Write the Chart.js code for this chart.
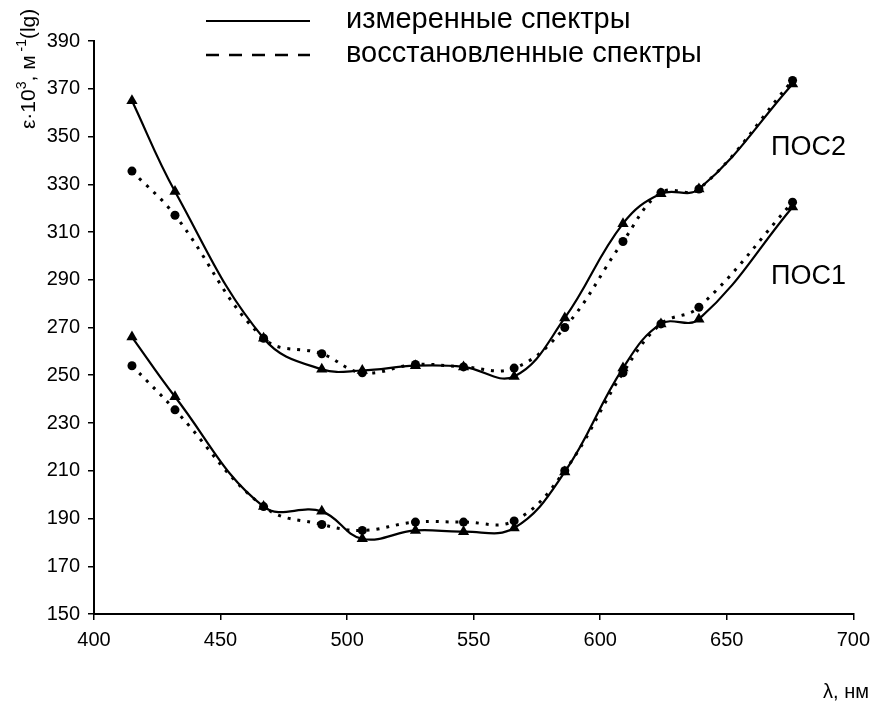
<!DOCTYPE html>
<html><head><meta charset="utf-8">
<script src="https://cdn.jsdelivr.net/npm/chart.js@4"></script>
<style>html,body{margin:0;padding:0;background:#fff}canvas{display:block}</style>
</head><body>
<canvas id="c" width="878" height="705"></canvas>
<script>
const FONT = "'Liberation Sans', Arial, sans-serif";
const wavelengths = [415, 432, 467, 490, 506, 527, 546, 566, 586, 609, 624, 639, 676];
const pos2Measured = [365, 327, 265.5, 252.5, 252, 254, 253.5, 249.5, 274, 313.5, 326, 328, 372];
const pos2Restored = [335.5, 317, 265.5, 259, 251, 254.5, 253.5, 253, 270, 306, 326.5, 328, 373.5];
const pos1Measured = [266, 241, 195, 193, 181.5, 185, 184.5, 186, 209.5, 253, 271.5, 273.5, 320.5];
const pos1Restored = [254, 235.5, 195, 187.5, 185, 188.5, 188.5, 189, 210, 251, 271.5, 278.5, 322.5];
const legendLabels = ['измеренные спектры', 'восстановленные спектры'];
const seriesLabels = ['ПОС2', 'ПОС1'];
const xAxisTitle = 'λ, нм';

const pts = arr => wavelengths.map((x, i) => ({x: x, y: arr[i]}));
const measuredStyle = {borderColor:'#000', backgroundColor:'#000', borderWidth:2.2, pointStyle:'triangle', pointRadius:6.5, pointBorderWidth:0, tension:0.4, fill:false};
const restoredStyle = {borderColor:'#000', backgroundColor:'#000', borderWidth:3, borderDash:[3,7], pointStyle:'circle', pointRadius:4.5, pointBorderWidth:0, tension:0.4, fill:false};

const annot = {
  id:'annot',
  afterDraw(chart){
    const ctx = chart.ctx;
    const xs = chart.scales.x, ys = chart.scales.y;
    ctx.save();
    ctx.fillStyle = '#000'; ctx.strokeStyle = '#000';
    // y axis title with superscripts
    ctx.save();
    ctx.translate(35, 129);
    ctx.rotate(-Math.PI/2);
    ctx.textBaseline = 'alphabetic'; ctx.textAlign = 'left';
    const segs = [['ε·10',21,0],['3',14,9],[', м',21,0],[' -1',14,9],['(lg)',21,0]];
    let px = 0;
    for (const [t,s,r] of segs){ ctx.font = s+'px '+FONT; ctx.fillText(t, px, -r); px += ctx.measureText(t).width; }
    ctx.restore();
    // legend
    ctx.lineWidth = 2.2;
    ctx.beginPath(); ctx.moveTo(206, 21); ctx.lineTo(310, 21); ctx.stroke();
    ctx.setLineDash([13,10]); ctx.lineWidth = 2.5;
    ctx.beginPath(); ctx.moveTo(206, 55); ctx.lineTo(310, 55); ctx.stroke();
    ctx.setLineDash([]);
    ctx.font = '29px '+FONT; ctx.textBaseline = 'middle'; ctx.textAlign = 'left';
    ctx.fillText(legendLabels[0], 346, 20);
    ctx.fillText(legendLabels[1], 346, 54);
    // series labels
    ctx.font = '27px '+FONT;
    ctx.fillText(seriesLabels[0], xs.getPixelForValue(667.5), ys.getPixelForValue(345.2));
    ctx.fillText(seriesLabels[1], xs.getPixelForValue(667.5), ys.getPixelForValue(291.5));
    // x title
    ctx.font = '20px '+FONT; ctx.textAlign = 'right';
    ctx.fillText(xAxisTitle, 869, 692);
    ctx.restore();
  }
};

new Chart(document.getElementById('c'), {
  type:'line',
  data:{datasets:[
    Object.assign({label:legendLabels[0]+' '+seriesLabels[0], data:pts(pos2Measured)}, measuredStyle),
    Object.assign({label:legendLabels[1]+' '+seriesLabels[0], data:pts(pos2Restored)}, restoredStyle),
    Object.assign({label:legendLabels[0]+' '+seriesLabels[1], data:pts(pos1Measured)}, measuredStyle),
    Object.assign({label:legendLabels[1]+' '+seriesLabels[1], data:pts(pos1Restored)}, restoredStyle)
  ]},
  options:{
    responsive:false, animation:false,
    layout:{padding:{top:41,right:19,bottom:0,left:0}},
    plugins:{legend:{display:false}, tooltip:{enabled:false}},
    scales:{
      x:{type:'linear', min:400, max:700,
         ticks:{stepSize:50, color:'#000', font:{size:20, family:FONT}, padding:8, maxRotation:0},
         grid:{drawOnChartArea:false, color:'#000', tickLength:6, lineWidth:1.5},
         border:{color:'#000', width:2},
         afterFit(s){ s.height = 91; }},
      y:{type:'linear', min:150, max:390,
         ticks:{stepSize:20, color:'#000', font:{size:20, family:FONT}, padding:8},
         grid:{drawOnChartArea:false, color:'#000', tickLength:6, lineWidth:1.5},
         border:{color:'#000', width:2},
         afterFit(s){ s.width = 94; }}
    }
  },
  plugins:[annot]
});
</script>
</body></html>
